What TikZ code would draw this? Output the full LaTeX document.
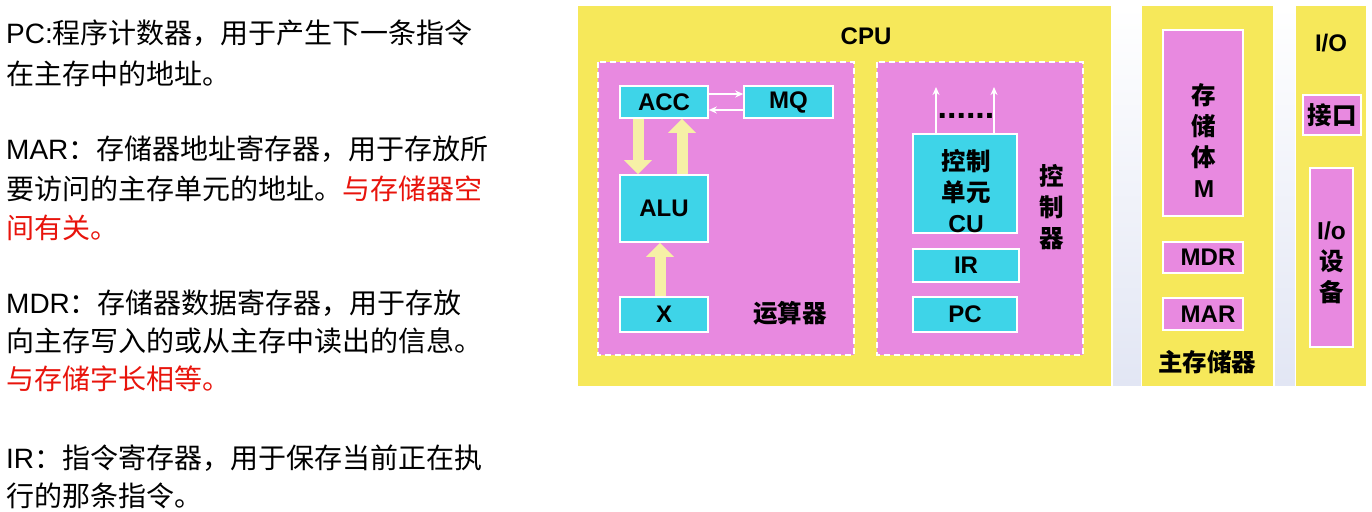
\documentclass[tikz,border=0pt]{standalone}
\usepackage{fontspec}
\setmainfont{Liberation Sans}
\newfontfamily\cjk{Noto Sans CJK SC}
\newfontfamily\lat{Liberation Sans}
\usetikzlibrary{arrows.meta}
\definecolor{panelyellow}{HTML}{F6E85A}
\definecolor{boxpink}{HTML}{E889E0}
\definecolor{boxcyan}{HTML}{3ED4E8}
\definecolor{arrowyellow}{HTML}{F6F0A6}
\definecolor{gapblue}{HTML}{E2E6F4}
\definecolor{textred}{HTML}{E8140C}
\newcommand\reglbl{\fontsize{24}{28}\selectfont\bfseries}
\tikzset{
  panel/.style={fill=panelyellow, draw=none},
  gap/.style={top color=white, bottom color=gapblue, draw=white, line width=1pt},
  unitbox/.style={fill=boxpink, draw=white, dash pattern=on 6pt off 4pt, line width=1.6pt},
  regbox/.style={fill=boxcyan, draw=white, line width=1.6pt, inner sep=0pt, font=\reglbl},
  membox/.style={fill=boxpink, draw=white, line width=1.6pt, inner sep=0pt},
  lbl/.style={font=\reglbl, text=black},
  clbl/.style={font=\fontsize{24.5}{31}\selectfont\cjk\bfseries, text=black, align=center},
  fat/.style={draw=arrowyellow, line width=11pt, -{Triangle[width=27pt,length=14pt]}},
  thin/.style={draw=white, line width=1.5pt, -{Stealth[length=8pt,width=7pt]}},
  para/.style={anchor=base west, inner sep=0pt, font=\fontsize{28}{39}\selectfont\cjk}
}
\begin{document}
\begin{tikzpicture}[x=1pt,y=-1pt]
\useasboundingbox (0,0) rectangle (1372,511);
% panels
\path[panel] (578,6) rectangle (1111,386);
\path[gap] (1112,6) rectangle (1141,386);
\path[panel] (1142,6) rectangle (1273,386);
\path[gap] (1274,6) rectangle (1295,386);
\path[panel] (1296,6) rectangle (1366,386);
\node[lbl] (cpu) at (866,36) {CPU};

% arithmetic unit
\path[unitbox] (598,62) rectangle (854,355);
\node[clbl] (ysq) at (790,313) {运算器};
\node[regbox, minimum width=88pt, minimum height=32pt] (acc) at (664,102) {ACC};
\node[regbox, minimum width=89pt, minimum height=32pt] (mq) at (788.5,102) {MQ};
\node[regbox, minimum width=88pt, minimum height=67pt] (alu) at (664,208.5) {ALU};
\node[regbox, minimum width=88pt, minimum height=35pt] (xr) at (664,314.5) {X};
\draw[thin] ([yshift=8pt]acc.east) -- ([yshift=8pt]mq.west);
\draw[thin] ([yshift=-8pt]mq.west) -- ([yshift=-8pt]acc.east);
\draw[fat] ([xshift=-26pt]acc.south) -- ([xshift=-26pt]alu.north);
\draw[fat] ([xshift=18pt]alu.north) -- ([xshift=18pt]acc.south);
\draw[fat] ([xshift=-4pt]xr.north) -- ([xshift=-4pt]alu.south);

% control unit
\path[unitbox] (877,62) rectangle (1083,355);
\node[clbl] (kzq) at (1052,207) {控\\制\\器};
\node[regbox, minimum width=104pt, minimum height=99pt] (cu) at (965,183.5) {};
\node[clbl, inner sep=0pt] (cutext) at (966,191) {控制\\单元\\{\lat\bfseries CU}};
\node[regbox, minimum width=106pt, minimum height=33pt] (ir) at (966,265.5) {IR};
\node[regbox, minimum width=104pt, minimum height=35pt] (pc) at (965,314.5) {PC};
\coordinate (cuo1) at (936,87);
\coordinate (cuo2) at (994,87);
\draw[thin] ([xshift=-29pt]cu.north) -- (cuo1);
\draw[thin] ([xshift=29pt]cu.north) -- (cuo2);
\node[font=\fontsize{34}{34}\selectfont\bfseries, inner sep=0pt] (dots) at (966,116) {......};

% main memory
\node[membox, minimum width=80pt, minimum height=186pt] (mem) at (1203,123) {};
\node[clbl, inner sep=0pt] (memtext) at (1204,141) {存\\储\\体\\{\lat\bfseries M}};
\node[membox, minimum width=80pt, minimum height=31pt] (mdr) at (1203,257.5) {};
\node[lbl, inner sep=0pt] (mdrt) at (1208,257.5) {MDR};
\node[membox, minimum width=80pt, minimum height=32pt] (mar) at (1203,314) {};
\node[lbl, inner sep=0pt] (mart) at (1208,314) {MAR};
\node[clbl] (zcc) at (1207,362) {主存储器};

% I/O
\node[lbl] (io) at (1331,43) {I/O};
\node[membox, minimum width=58pt, minimum height=40pt] (jk) at (1332,115) {};
\node[clbl, inner sep=0pt] (jkt) at (1332,115) {接口};
\node[membox, minimum width=43pt, minimum height=179pt] (iod) at (1331.5,257.5) {};
\node[clbl, inner sep=0pt] (iodt) at (1331.5,263) {{\lat\bfseries I/o}\\设\\备};

% left text
\node[para] (t1) at (6,44) {{\lat PC:}程序计数器，用于产生下一条指令};
\node[para] (t2) at (6,84) {在主存中的地址。};
\node[para] (t3) at (6,159) {{\lat MAR}：存储器地址寄存器，用于存放所};
\node[para] (t4) at (6,199) {要访问的主存单元的地址。\textcolor{textred}{与存储器空}};
\node[para, text=textred] (t5) at (6,238) {间有关。};
\node[para] (t6) at (6,313) {{\lat MDR}：存储器数据寄存器，用于存放};
\node[para] (t7) at (6,351) {向主存写入的或从主存中读出的信息。};
\node[para, text=textred] (t8) at (6,389) {与存储字长相等。};
\node[para] (t9) at (6,468) {{\lat IR}：指令寄存器，用于保存当前正在执};
\node[para] (t10) at (6,506) {行的那条指令。};
\end{tikzpicture}
\end{document}
